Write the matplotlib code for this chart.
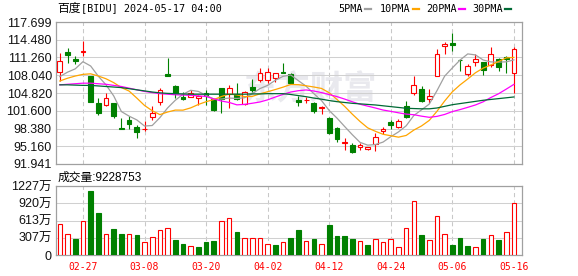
import matplotlib
matplotlib.use('Agg')
import matplotlib.pyplot as plt
from matplotlib.lines import Line2D
import numpy as np

plt.rcParams['font.family'] = ['Liberation Sans', 'Noto Sans CJK SC']

# daily candles 2024-02-22 .. 2024-05-16 (USD)
opens = [108.57, 112.26, 110.99, 112.26, 107.90, 102.95, 102.58, 102.95, 98.53, 99.92,
         98.71, 98.20, 100.41, 103.25, 108.20, 106.09, 104.15, 104.15, 103.97, 104.88,
         103.73, 105.67, 104.64, 104.64, 102.76, 105.97, 107.18, 107.18, 107.48, 108.63,
         108.27, 103.55, 103.50, 102.95, 102.16, 100.23, 98.41, 95.81, 95.39, 95.09,
         94.72, 95.60, 97.99, 99.50, 98.71, 102.46, 104.88, 105.49, 103.67, 107.96,
         113.35, 113.85, 110.85, 108.27, 110.50, 110.44, 109.90, 111.04, 111.40, 108.50]
highs = [112.02, 112.98, 111.53, 114.25, 107.95, 103.85, 104.76, 103.00, 100.35, 100.71,
         98.95, 99.74, 102.46, 105.67, 111.11, 106.27, 105.06, 105.36, 104.40, 105.36,
         103.80, 105.70, 106.27, 106.57, 105.18, 107.30, 109.29, 109.29, 108.45, 110.20,
         108.50, 104.28, 104.03, 103.25, 102.46, 100.41, 98.71, 96.60, 95.81, 95.69,
         95.09, 97.50, 98.71, 99.92, 100.04, 103.37, 107.90, 106.15, 105.49, 112.74,
         114.13, 115.64, 110.93, 110.08, 111.84, 110.50, 113.11, 111.10, 111.45, 113.22]
lows = [107.00, 110.20, 110.08, 111.53, 103.20, 100.83, 102.50, 100.35, 98.20, 98.23,
        96.60, 97.98, 99.92, 102.64, 107.96, 103.85, 103.55, 104.03, 102.64, 102.64,
        101.60, 101.25, 102.04, 103.55, 102.64, 105.06, 106.76, 106.70, 106.88, 108.39,
        106.50, 102.46, 102.95, 101.25, 101.00, 97.38, 95.99, 94.48, 94.00, 94.48,
        94.48, 94.35, 97.32, 98.23, 98.41, 100.23, 104.46, 103.25, 102.95, 107.90,
        111.83, 112.44, 108.86, 107.90, 109.72, 108.09, 109.60, 108.86, 108.50, 104.76]
closes = [110.56, 111.65, 110.69, 112.44, 103.25, 101.25, 103.85, 100.65, 98.23, 99.14,
          97.81, 98.30, 101.13, 105.36, 107.96, 104.76, 103.73, 104.76, 104.35, 104.25,
          101.74, 103.73, 105.67, 103.73, 104.94, 105.36, 108.39, 108.57, 108.39, 108.50,
          106.58, 103.19, 103.60, 101.62, 102.28, 97.50, 96.40, 95.93, 94.18, 95.33,
          94.96, 96.90, 98.23, 99.02, 99.68, 100.53, 106.27, 103.37, 104.22, 111.83,
          113.70, 113.60, 110.75, 109.72, 110.93, 108.99, 111.90, 109.59, 110.93, 112.75]
# volume, unit 万 shares
volumes = [545, 368, 285, 605, 1139, 753, 368, 463, 374, 374,
           356, 231, 314, 439, 474, 267, 196, 154, 142, 231,
           249, 599, 652, 409, 297, 297, 297, 190, 178, 231,
           302, 445, 249, 285, 196, 534, 338, 338, 285, 249,
           178, 285, 231, 285, 142, 480, 961, 356, 267, 694,
           374, 178, 302, 160, 142, 285, 356, 267, 409, 923]

ma5 = [107.8, 108.6, 109.2, 110.5, 109.72, 107.86, 106.3, 104.29, 101.45, 100.62,
       99.94, 98.83, 98.92, 100.35, 102.11, 103.5, 104.59, 105.31, 105.11, 104.38,
       103.73, 103.73, 103.9, 103.83, 103.96, 104.69, 105.62, 106.2, 107.13, 107.84,
       108.09, 107.05, 106.05, 104.7, 103.45, 101.64, 100.28, 98.75, 97.26, 95.87,
       95.36, 95.46, 95.92, 96.89, 97.76, 98.87, 100.75, 101.77, 102.81, 105.24,
       107.88, 109.37, 110.8, 111.91, 111.73, 110.81, 110.46, 110.43, 110.47, 110.83]
ma10 = [107.0, 107.5, 107.9, 108.2, 108.3, 107.9, 107.4, 106.7, 105.8, 105.17,
        103.9, 102.56, 101.61, 100.9, 101.37, 101.72, 101.71, 102.12, 102.74, 103.24,
        103.63, 104.18, 104.63, 104.47, 104.16, 104.2, 104.67, 105.05, 105.45, 105.88,
        106.37, 106.33, 106.13, 105.91, 105.65, 104.86, 103.66, 102.4, 100.98, 99.66,
        98.5, 97.87, 97.33, 97.07, 96.81, 97.12, 98.1, 98.85, 99.85, 101.5,
        103.37, 105.04, 106.29, 107.36, 108.49, 109.33, 109.9, 110.52, 111.19, 111.28]
ma20 = [106.3, 106.4, 106.5, 106.6, 106.6, 106.5, 106.4, 106.2, 106.0, 105.7,
        105.4, 105.1, 104.9, 104.7, 104.6, 104.5, 104.45, 104.4, 104.3, 104.2,
        103.75, 103.36, 103.11, 102.67, 102.76, 102.96, 103.19, 103.58, 104.09, 104.56,
        105.0, 105.24, 105.37, 105.18, 104.9, 104.53, 104.17, 103.72, 103.23, 102.78,
        102.44, 102.1, 101.73, 101.49, 101.23, 100.99, 100.88, 100.62, 100.41, 100.58,
        100.93, 101.45, 101.81, 102.22, 102.65, 103.22, 104.0, 104.68, 105.52, 106.39]
ma30 = [106.3, 106.3, 106.25, 106.2, 106.2, 106.1, 106.0, 105.9, 105.8, 105.6,
        105.4, 105.2, 105.0, 104.85, 104.75, 104.7, 104.65, 104.6, 104.6, 104.6,
        104.6, 104.6, 104.6, 104.6, 104.6, 104.65, 104.65, 104.7, 104.7, 104.7,
        104.55, 104.35, 104.15, 103.9, 103.7, 103.45, 103.25, 103.1, 102.95, 102.85,
        102.75, 102.65, 102.5, 102.35, 102.2, 102.05, 102.0, 101.95, 101.95, 102.1,
        102.4, 102.7, 102.9, 103.1, 103.3, 103.5, 103.65, 103.8, 103.95, 104.1]

tick_idx = [3, 11, 19, 27, 35, 43, 51, 59]
tick_labels = ['02-27', '03-08', '03-20', '04-02', '04-12', '04-24', '05-06', '05-16']
price_ticks = [91.941, 95.160, 98.380, 101.600, 104.820, 108.040, 111.260, 114.480, 117.699]
vol_ticks = [0, 307, 613, 920, 1227]
vol_tick_labels = ['0', '307万', '613万', '920万', '1227万']
ma_names = ['5PMA', '10PMA', '20PMA', '30PMA']
ma_colors = ['#a0a0a0', '#ffa500', '#ff00ff', '#006a35']
last_volume = 9228753

RED = '#ff0000'
GREEN = '#008000'
MONO = ['DejaVu Sans Mono', 'Noto Sans CJK SC']

W, H = 578, 276
fig = plt.figure(figsize=(W / 100, H / 100), dpi=100)


def box(l, t, r, b):
    return [l / W, 1 - b / H, (r - l) / W, (b - t) / H]


ax = fig.add_axes(box(56, 22, 522, 164))
axv = fig.add_axes(box(56, 186, 522, 255))

x = np.arange(len(closes))
o, h, lo, c = (np.array(v) for v in (opens, highs, lows, closes))
up = c >= o
col = np.where(up, RED, GREEN)

# candles
ax.vlines(x, lo, h, colors=col, lw=0.8, zorder=3)
ax.bar(x, np.maximum(np.abs(c - o), 0.03), bottom=np.minimum(o, c), width=0.62,
       color=np.where(up, 'white', GREEN), edgecolor=col, lw=0.8, zorder=4)

for vals, colr in zip([ma5, ma10, ma20, ma30], ma_colors):
    ax.plot(x, vals, color=colr, lw=0.9, zorder=5)

# volume, coloured by change from previous close
vup = np.r_[c[0] >= o[0], c[1:] >= c[:-1]]
vcol = np.where(vup, RED, GREEN)
axv.bar(x, volumes, width=0.6, color=np.where(vup, 'white', GREEN), edgecolor=vcol, lw=0.8, zorder=3)

for a in (ax, axv):
    a.set_xlim(-0.5, 60.05)
    a.set_xticks(tick_idx)
    a.set_axisbelow(True)
    a.grid(axis='y', color='#d0d0d0', lw=0.75)
    a.grid(axis='x', color='#c8c8c8', lw=0.75, ls=(0, (4, 3)))
    a.tick_params(axis='y', length=0, pad=3, labelsize=9, labelcolor='#111')
    for s in a.spines.values():
        s.set_color('#a0a0a0')
        s.set_linewidth(0.9)

ax.set_ylim(price_ticks[0], price_ticks[-1])
ax.set_yticks(price_ticks)
ax.set_yticklabels([f'{v:.3f}' for v in price_ticks])
ax.tick_params(axis='x', length=0, labelbottom=False)

axv.set_ylim(vol_ticks[0], vol_ticks[-1])
axv.set_yticks(vol_ticks)
axv.set_yticklabels(vol_tick_labels)
axv.set_xticklabels(tick_labels, color=RED, family=MONO, fontsize=7)
axv.tick_params(axis='x', length=0, pad=5)

# watermark
ax.text(0.545, 0.52, '东方财富', transform=ax.transAxes, fontsize=24, color='#e9e9ee',
        fontweight='bold', ha='center', va='center', zorder=0.2)

# header
fig.text(57 / W, 1 - 8.5 / H, '百度', fontsize=8.5, va='center', family=['Noto Sans CJK SC'])
fig.text(81 / W, 1 - 8.5 / H, '[BIDU] 2024-05-17 04:00', fontsize=7.3, va='center', family=MONO)

leg_x = [338, 380, 426, 472]
for name, colr, lx in zip(ma_names, ma_colors, leg_x):
    t = fig.text(lx / W, 1 - 9 / H, name, fontsize=7.3, va='center', family=MONO)
    end = lx + 6.2 * len(name) + 2
    fig.add_artist(Line2D([end / W, (end + 6) / W], [1 - 9 / H, 1 - 9 / H], color=colr, lw=1.6))

fig.text(58 / W, 1 - 177.5 / H, f'成交量:{last_volume}', fontsize=8.5, va='center')

fig.savefig('out.png', dpi=100)
